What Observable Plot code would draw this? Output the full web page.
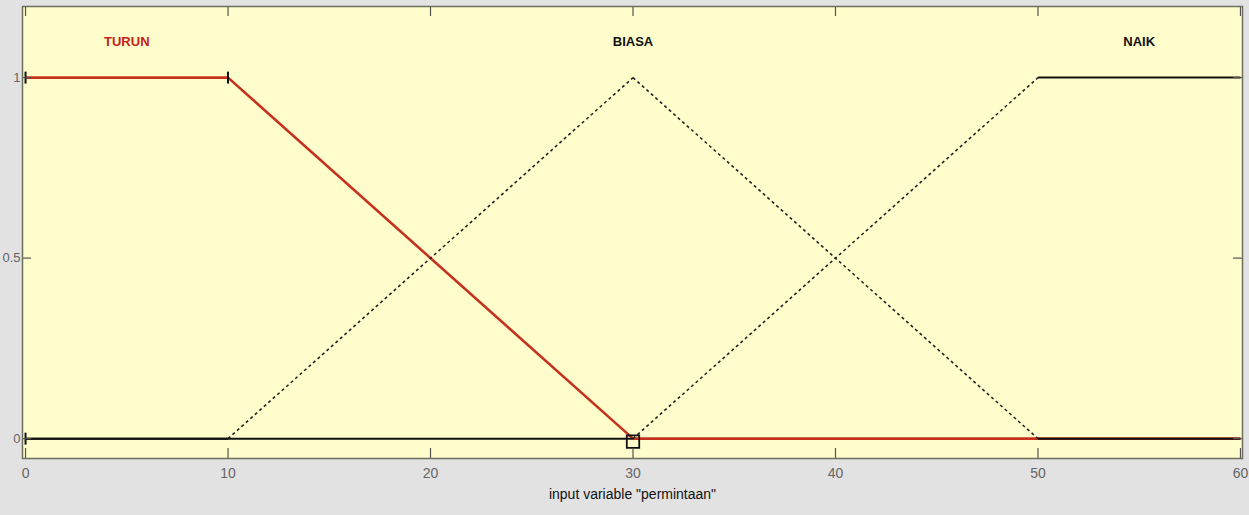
<!DOCTYPE html>
<html><head><meta charset="utf-8">
<script src="https://cdn.jsdelivr.net/npm/d3@7"></script>
<script src="https://cdn.jsdelivr.net/npm/@observablehq/plot@0.6"></script>
<style>html,body{margin:0;padding:0;background:#E2E2E2;overflow:hidden}</style>
</head><body><div id="chart"></div><script>
// ---- data ----
const xTicks = [0, 10, 20, 30, 40, 50, 60];
const yTicks = [0, 0.5, 1];
const yTickLabels = ["0", "0.5", "1"];
const mfNames = ["TURUN", "BIASA", "NAIK"];
const mfLabelX = [5, 30, 55];
const mfLabelY = [1.1, 1.1, 1.1];
const turunX = [0, 10, 30, 60];
const turunY = [1, 1, 0, 0];
const biasaX = [0, 10, 30, 50, 60];
const biasaY = [0, 0, 1, 0, 0];
const naikX = [0, 30, 50, 60];
const naikY = [0, 0, 1, 1];
const handleX = [0, 10, 0];
const handleY = [1, 1, 0];
const squareX = [30];
const squareY = [0];
const xLabel = 'input variable "permintaan"';

// ---- build ----
function segments(xs, ys) {
  const s = [];
  for (let i = 0; i < xs.length - 1; i++) s.push({x1: xs[i], y1: ys[i], x2: xs[i+1], y2: ys[i+1]});
  return s;
}
const turunSeg = segments(turunX, turunY);
const biasaSeg = segments(biasaX, biasaY);
const naikSeg = segments(naikX, naikY);
const flat = s => s.filter(d => d.y1 === d.y2);
const slope = s => s.filter(d => d.y1 !== d.y2);
const mfLabels = mfNames.map((n, i) => ({name: n, x: mfLabelX[i], y: mfLabelY[i]}));
const handles = handleX.map((x, i) => ({x, y: handleY[i]}));
const squares = squareX.map((x, i) => ({x, y: squareY[i]}));

const W = 1249, H = 515, mt = 6, mb = 57, ml = 22, mr = 7;
const pw = W - ml - mr, ph = H - mt - mb;
const vline = {draw(ctx, size) { const r = 6; ctx.moveTo(0, -r); ctx.lineTo(0, r); }};

const chart = Plot.plot({
  width: W, height: H,
  marginTop: mt, marginBottom: mb, marginLeft: ml, marginRight: mr,
  style: {fontFamily: "'Liberation Sans', Arial, sans-serif", background: "transparent"},
  x: {domain: [-0.15, 60.1]},
  y: {domain: [-0.055, 1.197]},
  marks: [
    Plot.frame({fill: "#FFFDCB"}),
    // TURUN (selected, red)
    Plot.link(turunSeg, {x1: "x1", y1: "y1", x2: "x2", y2: "y2", stroke: "#C4321E", strokeWidth: 2.6}),
    // BIASA
    Plot.link(flat(biasaSeg), {x1: "x1", y1: "y1", x2: "x2", y2: "y2", stroke: "#111", strokeWidth: 2}),
    Plot.link(slope(biasaSeg), {x1: "x1", y1: "y1", x2: "x2", y2: "y2", stroke: "#222", strokeWidth: 1.6, strokeDasharray: "3,3"}),
    // NAIK
    Plot.link(flat(naikSeg), {x1: "x1", y1: "y1", x2: "x2", y2: "y2", stroke: "#111", strokeWidth: 2}),
    Plot.link(slope(naikSeg), {x1: "x1", y1: "y1", x2: "x2", y2: "y2", stroke: "#222", strokeWidth: 1.6, strokeDasharray: "3,3"}),
    // handles
    Plot.dot(handles, {x: "x", y: "y", symbol: vline, r: 6, stroke: "#111", strokeWidth: 2}),
    Plot.dot(squares, {x: "x", y: "y", symbol: "square", r: 7, stroke: "#111", strokeWidth: 1.8, fill: "none", dy: 3}),
    // MF labels
    Plot.text(mfLabels, {x: "x", y: "y", text: "name", fill: d => d.name === "TURUN" ? "#C8201A" : "#111",
      fontSize: 13, fontWeight: "bold", style: "letter-spacing:1.5px"}),
    // inward ticks
    Plot.tickX(xTicks, {x: d => d, insetTop: ph - 10, stroke: "#555", strokeWidth: 1.2}),
    Plot.tickX(xTicks, {x: d => d, insetBottom: ph - 10, stroke: "#555", strokeWidth: 1.2}),
    Plot.tickY(yTicks, {y: d => d, insetRight: pw - 9, stroke: "#555", strokeWidth: 1.2}),
    Plot.tickY(yTicks, {y: d => d, insetLeft: pw - 9, stroke: "#555", strokeWidth: 1.2}),
    Plot.frame({stroke: "#6B6F5E", strokeWidth: 1.5}),
    // axes
    Plot.axisX(xTicks, {tickSize: 0, tickPadding: 10, fontSize: 14, fill: "#666", label: null}),
    Plot.axisY(yTicks, {tickSize: 0, tickPadding: 2, fontSize: 13, fill: "#666", label: null,
      tickFormat: d => yTickLabels[yTicks.indexOf(d)]}),
    Plot.text([xLabel], {text: d => d, frameAnchor: "bottom", dy: 36, fontSize: 14, fill: "#111", lineAnchor: "middle"})
  ]
});
document.getElementById("chart").append(chart);
</script></body></html>
